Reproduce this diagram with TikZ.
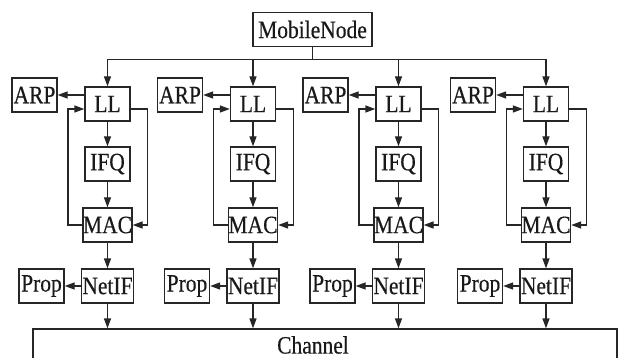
\documentclass[tikz,border=0pt]{standalone}
\usepackage{fontspec}
\setmainfont{Liberation Serif}[FakeStretch=0.86,FakeBold=0.4]
\usetikzlibrary{arrows.meta}
\begin{document}
\begin{tikzpicture}[x=1pt,y=-1pt,
  lbl/.style={text=black!90,font=\fontsize{25}{28}\selectfont},
  box/.style={lbl,draw=black!85,line width=1.3pt,inner sep=0pt,minimum height=34pt},
  arr/.style={draw=black!85,line width=1.3pt,-{Triangle[length=10pt,width=7pt]}}]
\useasboundingbox (0,0) rectangle (618,358);
\clip (0,0) rectangle (618,358);
\node[box,minimum width=119pt,minimum height=34pt] (mn) at (312.5,29.5) {MobileNode};
\node[box,minimum width=584pt,minimum height=60pt] (ch) at (325,359) {};
\node[lbl] (chl) at (313,345) {Channel};
\foreach \i/\c in {1/107.5,2/253,3/398.5,4/546}{
  \node[box,minimum width=45pt] (ll\i) at (\c,104) {LL};
  \node[box,minimum width=45pt] (arp\i) at ({\c-73},95) {ARP};
  \node[box,minimum width=45pt] (ifq\i) at (\c,164) {IFQ};
  \node[box,minimum width=49pt] (mac\i) at (\c,225) {MAC};
  \node[box,minimum width=52pt] (nif\i) at (\c,286) {NetIF};
  \node[box,minimum width=45pt] (prop\i) at ({\c-66},286) {Prop};
  \draw[arr] (mn.south) -- ++(0,12.5) -| (ll\i.north);
  \draw[arr] (arp\i.east -| ll\i.west) -- (arp\i.east);
  \draw[arr] (ll\i.south) -- (ifq\i.north);
  \draw[arr] (ifq\i.south) -- (mac\i.north);
  \draw[arr] (mac\i.south) -- (nif\i.north);
  \draw[arr] (nif\i.west) -- (prop\i.east);
  \draw[arr] (nif\i.south) -- (nif\i.south |- ch.north);
  \draw[arr] ([yshift=-5pt]ll\i.east) -- ++(17,0) |- (mac\i.east);
  \draw[arr] (mac\i.west) -- ++(-14.5,0) |- ([yshift=-5pt]ll\i.west);
}
\end{tikzpicture}
\end{document}
